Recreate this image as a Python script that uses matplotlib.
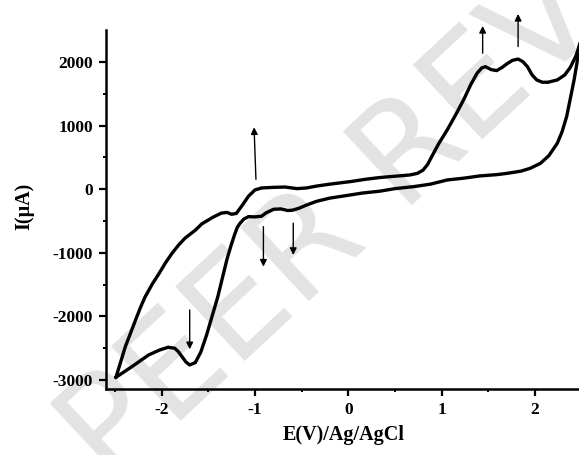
import matplotlib
matplotlib.use("Agg")
import matplotlib.pyplot as plt

plt.rcParams["axes.unicode_minus"] = False

# anodic scan (upper curve), from the negative vertex to the positive vertex
anodicE = [-2.49, -2.44, -2.39, -2.33, -2.28, -2.23, -2.18, -2.10, -2.03, -1.96,
           -1.89, -1.82, -1.75, -1.64, -1.57, -1.45, -1.36, -1.30, -1.25, -1.20,
           -1.14, -1.07, -1.00, -0.93, -0.80, -0.68, -0.55, -0.45, -0.34, -0.20,
           0.02, 0.20, 0.34, 0.50, 0.66, 0.74, 0.80, 0.85, 0.90, 0.97,
           1.06, 1.15, 1.24, 1.31, 1.38, 1.43, 1.47, 1.53, 1.59, 1.65,
           1.70, 1.76, 1.82, 1.87, 1.92, 1.97, 2.02, 2.08, 2.14, 2.24,
           2.32, 2.38, 2.44, 2.48]
anodicI = [-2960, -2720, -2479, -2250, -2058, -1870, -1700, -1490, -1330, -1160,
           -1010, -880, -770, -645, -545, -440, -375, -365, -394, -380,
           -260, -110, -10, 20, 30, 35, 10, 20, 50, 80,
           120, 160, 185, 205, 225, 250, 300, 390, 530, 720,
           934, 1170, 1420, 1640, 1827, 1910, 1930, 1885, 1868, 1920,
           1975, 2030, 2050, 2010, 1931, 1800, 1721, 1685, 1685, 1721,
           1800, 1920, 2100, 2280]

# cathodic scan (lower curve), from the positive vertex back to the negative vertex
cathodicE = [2.48, 2.45, 2.42, 2.38, 2.34, 2.29, 2.24, 2.15, 2.06, 1.95,
             1.85, 1.70, 1.59, 1.41, 1.24, 1.06, 0.88, 0.70, 0.50, 0.34,
             0.15, 0.02, -0.20, -0.34, -0.45, -0.53, -0.60, -0.65, -0.72, -0.80,
             -0.88, -0.93, -1.00, -1.07, -1.12, -1.16, -1.19, -1.22, -1.26, -1.30,
             -1.35, -1.40, -1.46, -1.52, -1.58, -1.64, -1.70, -1.74, -1.77, -1.82,
             -1.86, -1.93, -2.02, -2.14, -2.32, -2.49]
cathodicI = [2280, 1980, 1721, 1430, 1143, 900, 724, 530, 409, 330,
             285, 250, 230, 210, 175, 146, 80, 41, 10, -30,
             -60, -90, -140, -190, -250, -300, -330, -335, -310, -315,
             -370, -425, -435, -431, -470, -535, -600, -720, -900, -1100,
             -1400, -1700, -2000, -2300, -2560, -2730, -2767, -2720, -2661, -2560,
             -2504, -2488, -2530, -2609, -2794, -2960]

# peak arrows: tail E, head E, tail I, head I
arrowTailE = [-0.99, -0.91, -0.59, -1.70, 1.44, 1.82]
arrowHeadE = [-1.01, -0.91, -0.59, -1.70, 1.44, 1.82]
arrowTail = [157, -589, -535, -1901, 2142, 2246]
arrowHead = [976, -1219, -1035, -2520, 2572, 2761]

xTicks = [-2, -1, 0, 1, 2]
yTicks = [-3000, -2000, -1000, 0, 1000, 2000]

serif = "Liberation Serif"

fig = plt.figure(figsize=(5.79, 4.55), dpi=100)
ax = fig.add_axes([0.1826, 0.1444, 0.8218, 0.7886])
ax.set_facecolor("none")

# faint watermark behind everything
fig.text(0.19, -0.07, "PEER REVIEW", rotation=43, rotation_mode="anchor",
         fontsize=100, fontweight="normal", color="#e3e3e3", family="DejaVu Sans",
         ha="left", va="baseline", zorder=-5)

ax.plot(anodicE, anodicI, color="black", lw=2.4, solid_joinstyle="round")
ax.plot(cathodicE, cathodicI, color="black", lw=2.4, solid_joinstyle="round")

for e0, e1, i0, i1 in zip(arrowTailE, arrowHeadE, arrowTail, arrowHead):
    ax.annotate("", xy=(e1, i1), xytext=(e0, i0), annotation_clip=False,
                arrowprops=dict(arrowstyle="-|>", color="black", lw=1.0,
                                mutation_scale=10, shrinkA=0, shrinkB=0))

ax.set_xlim(-2.6, 2.5)
ax.set_ylim(-3150, 2500)
ax.set_xticks(xTicks)
ax.set_yticks(yTicks)
ax.set_xticks([-2.5, -1.5, -0.5, 0.5, 1.5], minor=True)
ax.set_yticks([-2500, -1500, -500, 500, 1500], minor=True)

ax.spines["top"].set_visible(False)
ax.spines["right"].set_visible(False)
for s in ["left", "bottom"]:
    ax.spines[s].set_linewidth(1.8)

ax.tick_params(which="major", direction="out", length=5, width=1.6, pad=4)
ax.tick_params(which="minor", direction="out", length=2.5, width=1.4)
for lab in ax.get_xticklabels() + ax.get_yticklabels():
    lab.set_fontfamily(serif)
    lab.set_fontweight("bold")
    lab.set_fontsize(12.5)

ax.set_xlabel("E(V)/Ag/AgCl", fontfamily=serif, fontweight="bold", fontsize=14.5)
ax.set_ylabel("I(\u03bcA)", fontfamily=serif, fontweight="bold", fontsize=14.5)
ax.xaxis.set_label_coords(0.5, -0.1)
ax.yaxis.set_label_coords(-0.15, 0.51)

fig.savefig("out.png", dpi=100)
